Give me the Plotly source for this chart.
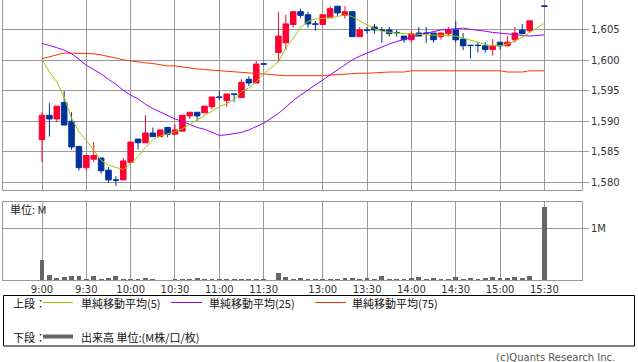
import plotly.graph_objects as go

# ---------------- data ----------------
def session(h0, m0, h1, m1):
    out = []
    t, end = h0 * 60 + m0, h1 * 60 + m1
    while t <= end:
        out.append(f"{t // 60}:{t % 60:02d}")
        t += 5
    return out

morning = session(9, 0, 11, 30)
afternoon = session(12, 30, 15, 30)
axis_slots = morning + ["12:25"] + afternoon          # axis categories (incl. empty slots)
trade_times = morning + [t for t in afternoon if t != "15:25"]

opens = [1587.0, 1591.0, 1590.4, 1593.1, 1590.0, 1585.9, 1582.4, 1583.8, 1584.0, 1582.0,
         1580.4, 1580.4, 1583.3, 1587.1, 1586.5, 1588.1, 1587.5, 1589.0, 1587.9, 1588.4,
         1590.9, 1591.5, 1591.4, 1592.4, 1594.0, 1593.4, 1594.5, 1593.9, 1596.9, 1596.3,
         1599.45,
         1601.3, 1602.9, 1605.9, 1608.0, 1607.5, 1606.0, 1605.9, 1607.0, 1608.9, 1607.4,
         1608.0, 1603.9, 1605.0, 1605.5, 1605.0, 1605.0, 1604.6, 1604.0, 1603.4, 1604.5,
         1604.5, 1604.5, 1603.9, 1604.4, 1605.0, 1603.5, 1602.5, 1602.5, 1602.4, 1601.8,
         1603.0, 1602.4, 1603.4, 1605.0, 1604.9,
         1608.95]
highs = [1591.5, 1593.0, 1592.5, 1595.0, 1591.5, 1585.9, 1584.4, 1586.6, 1584.0, 1582.5,
         1581.0, 1584.0, 1586.6, 1587.1, 1591.0, 1589.0, 1588.6, 1589.0, 1589.5, 1591.0,
         1591.5, 1591.5, 1592.5, 1594.0, 1595.0, 1594.5, 1594.5, 1596.9, 1597.4, 1599.9,
         1599.45,
         1608.0, 1607.5, 1608.0, 1608.5, 1608.0, 1606.5, 1607.5, 1608.9, 1608.9, 1608.9,
         1608.0, 1605.5, 1605.5, 1606.0, 1605.5, 1605.5, 1605.0, 1604.0, 1604.9, 1605.5,
         1605.5, 1604.5, 1604.5, 1605.5, 1606.5, 1604.5, 1602.5, 1603.0, 1603.0, 1603.5,
         1603.0, 1604.0, 1605.5, 1606.0, 1606.5,
         1608.95]
lows = [1583.3, 1587.5, 1589.9, 1589.4, 1585.3, 1581.9, 1581.9, 1583.3, 1581.4, 1579.9,
        1579.4, 1580.4, 1583.3, 1585.4, 1586.5, 1587.5, 1587.5, 1587.4, 1587.9, 1588.4,
        1590.4, 1590.1, 1591.4, 1592.0, 1593.5, 1592.4, 1593.2, 1593.9, 1595.8, 1596.3,
        1599.4,
        1599.7, 1601.7, 1605.4, 1606.9, 1605.4, 1604.9, 1605.9, 1606.9, 1607.3, 1606.9,
        1603.9, 1603.9, 1604.4, 1604.4, 1602.9, 1603.9, 1603.9, 1602.9, 1602.9, 1604.0,
        1602.9, 1602.9, 1603.4, 1603.9, 1602.9, 1601.7, 1600.3, 1601.3, 1601.3, 1600.8,
        1601.8, 1602.4, 1602.9, 1604.4, 1604.5,
        1608.9]
closes = [1591.0, 1590.4, 1592.5, 1589.4, 1585.8, 1582.4, 1584.4, 1584.4, 1581.9, 1580.4,
          1580.35, 1583.5, 1586.6, 1586.5, 1588.1, 1587.5, 1588.6, 1587.9, 1588.6, 1591.0,
          1591.5, 1590.9, 1592.5, 1594.0, 1593.95, 1594.5, 1594.45, 1596.4, 1596.3, 1599.4,
          1599.4,
          1604.0, 1606.0, 1608.0, 1607.4, 1606.0, 1605.95, 1607.5, 1608.5, 1607.8, 1608.0,
          1603.9, 1605.0, 1604.95, 1605.0, 1604.95, 1604.4, 1604.55, 1603.4, 1604.4, 1604.0,
          1604.45, 1603.4, 1604.5, 1605.0, 1603.4, 1602.4, 1602.45, 1602.45, 1601.8, 1602.4,
          1602.4, 1603.0, 1604.5, 1604.4, 1606.5,
          1608.9]

ma5 = [1600.2, 1598.1, 1596.5, 1594.0, 1590.5, 1588.3, 1586.9, 1585.3, 1583.6, 1582.8,
       1582.5, 1582.1, 1583.1, 1584.2, 1585.7, 1587.0, 1587.6, 1587.9, 1588.3, 1588.8,
       1589.5, 1590.2, 1591.0, 1591.7, 1592.4, 1592.9, 1593.6, 1594.9, 1595.5, 1596.5,
       1597.8,
       1599.8, 1602.0, 1603.6, 1605.4, 1606.4, 1606.8, 1606.9, 1607.0, 1607.2, 1607.5,
       1607.2, 1606.5, 1605.8, 1605.2, 1604.8, 1604.6, 1604.5, 1604.4, 1604.4, 1604.3,
       1604.2, 1604.2, 1604.1, 1604.1, 1604.0, 1603.7, 1603.4, 1603.0, 1602.6, 1602.4,
       1602.4, 1602.7, 1603.2, 1603.8, 1604.6,
       1606.1]
ma25 = [1602.8, 1602.5, 1602.1, 1601.7, 1601.1, 1600.2, 1599.2, 1598.5, 1597.8, 1596.9,
        1596.1, 1595.1, 1594.3, 1593.7, 1592.8, 1592.1, 1591.5, 1591.0, 1590.4, 1590.0,
        1589.5, 1589.0, 1588.7, 1588.2, 1587.7, 1587.8, 1588.0, 1588.2, 1588.6, 1589.1,
        1589.7,
        1591.3, 1592.4, 1593.4, 1594.3, 1595.2, 1596.0, 1596.8, 1597.6, 1598.4, 1599.2,
        1600.1, 1600.7, 1601.2, 1601.7, 1602.3, 1602.7, 1603.1, 1603.4, 1603.8, 1604.2,
        1604.5, 1604.7, 1605.0, 1605.1, 1605.2, 1605.3, 1605.1, 1605.0, 1604.8, 1604.6,
        1604.5, 1604.4, 1604.3, 1604.1, 1604.0,
        1604.2]
ma75 = [1600.3, 1600.6, 1601.0, 1601.2, 1601.2, 1601.2, 1601.1, 1601.1, 1600.9, 1600.7,
        1600.4, 1600.1, 1599.9, 1599.8, 1599.6, 1599.5, 1599.3, 1599.1, 1599.1, 1598.9,
        1598.7, 1598.6, 1598.5, 1598.4, 1598.3, 1598.2, 1598.1, 1598.0, 1597.9, 1597.8,
        1597.7,
        1597.5, 1597.5, 1597.5, 1597.5, 1597.5, 1597.4, 1597.5, 1597.6, 1597.7, 1597.8,
        1597.9, 1597.9, 1597.9, 1598.0, 1598.1, 1598.1, 1598.1, 1598.1, 1598.3, 1598.3,
        1598.3, 1598.3, 1598.3, 1598.3, 1598.3, 1598.3, 1598.3, 1598.3, 1598.3, 1598.3,
        1598.3, 1598.1, 1598.1, 1598.1, 1598.3,
        1598.3]

volume_m = [0.39, 0.10, 0.04, 0.06, 0.08, 0.08, 0.02, 0.08, 0.02, 0.04,
            0.08, 0.02, 0.02, 0.01, 0.04, 0.02, 0.005, 0.005, 0.01, 0.02,
            0.02, 0.04, 0.01, 0.02, 0.02, 0.01, 0.01, 0.02, 0.01, 0.02,
            0.01,
            0.135, 0.06, 0.02, 0.04, 0.02, 0.03, 0.02, 0.02, 0.02, 0.04,
            0.04, 0.01, 0.04, 0.02, 0.08, 0.02, 0.02, 0.02, 0.04, 0.06,
            0.02, 0.04, 0.01, 0.01, 0.06, 0.02, 0.04, 0.02, 0.04, 0.06,
            0.04, 0.04, 0.06, 0.04, 0.08,
            1.42]

time_ticks = ["9:00", "9:30", "10:00", "10:30", "11:00", "11:30",
              "13:00", "13:30", "14:00", "14:30", "15:00", "15:30"]
price_ticks = [1580, 1585, 1590, 1595, 1600, 1605]
price_labels = ["1,580", "1,585", "1,590", "1,595", "1,600", "1,605"]
vol_ticks = [1]
vol_labels = ["1M"]

# ---------------- style ----------------
RED = "#ff0033"
BLUE = "#003399"
C_MA5 = "#99cc00"
C_MA25 = "#9900ff"
C_MA75 = "#ff3300"
GRID = "#999999"
TICKFONT = dict(family="DejaVu Sans", size=10, color="#333333")
JP = "Noto Sans CJK JP"

W, H = 638, 362
ML, MR, MT, MB = 3, 56, 0, 82
PW, PH = W - ML - MR, H - MT - MB


def px(x):
    return (x - ML) / PW


def py(y):
    return (H - MB - y) / PH


fig = go.Figure()

for vals, col in [(ma75, C_MA75), (ma25, C_MA25), (ma5, C_MA5)]:
    fig.add_trace(go.Scatter(x=trade_times, y=vals, mode="lines",
                             line=dict(color=col, width=1), xaxis="x", yaxis="y",
                             hoverinfo="skip", showlegend=False))

fig.add_trace(go.Candlestick(
    x=trade_times, open=opens, high=highs, low=lows, close=closes,
    increasing=dict(line=dict(color=RED, width=1), fillcolor=RED),
    decreasing=dict(line=dict(color=BLUE, width=1), fillcolor=BLUE),
    xaxis="x", yaxis="y", showlegend=False))

fig.add_trace(go.Bar(x=trade_times, y=volume_m, marker=dict(color="#666666", line=dict(width=0)),
                     width=0.65, xaxis="x2", yaxis="y2", showlegend=False))

xrange = [-5.28, 73.09]
common_x = dict(type="category", categoryorder="array", categoryarray=axis_slots,
                range=xrange, tickmode="array", tickvals=time_ticks, ticktext=time_ticks,
                showgrid=True, gridcolor=GRID, gridwidth=1,
                showline=True, mirror=True, linecolor=GRID, linewidth=1,
                zeroline=False, fixedrange=True)

fig.update_layout(
    width=W, height=H,
    margin=dict(l=ML, r=MR, t=MT, b=MB, pad=0),
    paper_bgcolor="white", plot_bgcolor="white",
    boxgap=0.25, boxgroupgap=0,
    bargap=0,
    showlegend=False,
    xaxis=dict(**common_x, anchor="y", showticklabels=False, ticks="",
               rangeslider=dict(visible=False)),
    xaxis2=dict(**common_x, anchor="y2", showticklabels=True, ticks="",
                tickfont=TICKFONT, tickangle=0),
    yaxis=dict(domain=[py(190), 1], range=[1578.74, 1609.92], side="right",
               tickmode="array", tickvals=price_ticks, ticktext=price_labels,
               ticks="outside", ticklen=6, tickcolor=GRID, tickfont=TICKFONT,
               showgrid=True, gridcolor=GRID, showline=True, mirror=True,
               linecolor=GRID, zeroline=False, anchor="x", fixedrange=True),
    yaxis2=dict(domain=[0, py(201.7)], range=[0, 1.515], side="right",
                tickmode="array", tickvals=vol_ticks, ticktext=vol_labels,
                ticks="outside", ticklen=6, tickcolor=GRID, tickfont=TICKFONT,
                showgrid=True, gridcolor=GRID, showline=True, mirror=True,
                linecolor=GRID, zeroline=False, anchor="x2", fixedrange=True),
)

# unit label inside volume panel
fig.add_annotation(x=px(8), y=py(208.5), xref="paper", yref="paper", text="単位: M",
                   showarrow=False, xanchor="left", yanchor="middle",
                   font=dict(family=JP, size=11, color="#222222"))

# legend box
fig.add_shape(type="rect", xref="paper", yref="paper",
              x0=px(3.5), x1=px(634.5), y0=py(346), y1=py(295.5),
              line=dict(color="#000000", width=1), fillcolor="rgba(0,0,0,0)")

row1, row2 = 302.5, 336.5
fig.add_annotation(x=px(11), y=py(row1), xref="paper", yref="paper", text="上段：",
                   showarrow=False, xanchor="left", yanchor="middle",
                   font=dict(family=JP, size=11, color="#111111"))
fig.add_annotation(x=px(11), y=py(row2), xref="paper", yref="paper", text="下段：",
                   showarrow=False, xanchor="left", yanchor="middle",
                   font=dict(family=JP, size=11, color="#111111"))

legend_items = [(43, 73, 79, C_MA5, "単純移動平均(5)"),
                (171, 202, 207, C_MA25, "単純移動平均(25)"),
                (315, 346, 350, C_MA75, "単純移動平均(75)")]
for x0, x1, xt, col, label in legend_items:
    fig.add_shape(type="line", xref="paper", yref="paper", x0=px(x0), x1=px(x1),
                  y0=py(row1), y1=py(row1), line=dict(color=col, width=1))
    fig.add_annotation(x=px(xt), y=py(row1), xref="paper", yref="paper", text=label,
                       showarrow=False, xanchor="left", yanchor="middle",
                       font=dict(family=JP, size=11, color="#111111"))

fig.add_shape(type="line", xref="paper", yref="paper", x0=px(43), x1=px(73),
              y0=py(row2), y1=py(row2), line=dict(color="#666666", width=4))
fig.add_annotation(x=px(79), y=py(row2), xref="paper", yref="paper",
                   text="出来高 単位:(M株/口/枚)", showarrow=False,
                   xanchor="left", yanchor="middle",
                   font=dict(family=JP, size=11, color="#111111"))

fig.add_annotation(x=px(617), y=py(357), xref="paper", yref="paper",
                   text="(c)Quants Research Inc.", showarrow=False,
                   xanchor="right", yanchor="middle",
                   font=dict(family="DejaVu Sans", size=10, color="#555555"))

fig.write_html("out.html", config={"displayModeBar": False},
               post_script="document.body.style.margin='0';")
